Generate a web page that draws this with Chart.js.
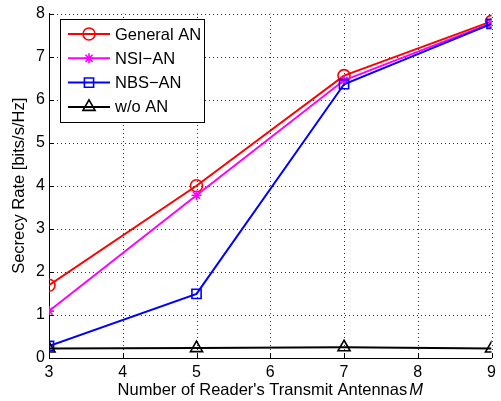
<!DOCTYPE html>
<html>
<head>
<meta charset="utf-8">
<script src="https://cdn.jsdelivr.net/npm/chart.js@4.4.1/dist/chart.umd.min.js"></script>
<style>
  body { margin: 0; background: #fff; }
  canvas { display: block; }
</style>
</head>
<body>
<canvas id="chart" width="501" height="401"></canvas>
<script>
// antennas M
const antennas = [3, 5, 7, 9];
const generalAN = [1.69, 4.0, 6.56, 7.82];
const nsiAN = [1.09, 3.78, 6.45, 7.78];
const nbsAN = [0.28, 1.49, 6.36, 7.76];
const withoutAN = [0.22, 0.23, 0.25, 0.22];

const xTicks = [3, 4, 5, 6, 7, 8, 9];
const yTicks = [0, 1, 2, 3, 4, 5, 6, 7, 8];

const FONT = '"Liberation Sans", Arial, Helvetica, sans-serif';

const toPoints = (vals) => vals.map((v, i) => ({ x: antennas[i], y: v }));

const series = [
    { label: 'General AN', data: generalAN, color: '#ff0000', style: 'circle', radius: 6, order: 4 },
    { label: 'NSI\u2212AN', data: nsiAN, color: '#ff00ff', style: 'star', radius: 5, order: 3 },
    { label: 'NBS\u2212AN', data: nbsAN, color: '#0000ff', style: 'rect', radius: 6.5, order: 2 },
    { label: 'w/o AN', data: withoutAN, color: '#000000', style: 'triangle', radius: 7, order: 1 },
];

// dotted grid under the lines
const dottedGrid = {
    id: 'dottedGrid',
    beforeDatasetsDraw(chart) {
        const ctx = chart.ctx;
        const xs = chart.scales.x;
        const ys = chart.scales.y;
        const area = chart.chartArea;
        ctx.save();
        ctx.strokeStyle = '#333';
        ctx.lineWidth = 1;
        ctx.setLineDash([1, 3]);
        ctx.beginPath();
        xTicks.slice(1).forEach(t => {
            const px = Math.round(xs.getPixelForValue(t)) + 0.5;
            ctx.moveTo(px, area.bottom);
            ctx.lineTo(px, area.top);
        });
        yTicks.slice(1).forEach(t => {
            const py = Math.round(ys.getPixelForValue(t)) + 0.5;
            ctx.moveTo(area.left, py);
            ctx.lineTo(area.right, py);
        });
        ctx.stroke();
        ctx.restore();
    }
};

// titles, inward ticks and the boxed legend, MATLAB style
const decorations = {
    id: 'decorations',
    afterDraw(chart) {
        const ctx = chart.ctx;
        const xs = chart.scales.x;
        const ys = chart.scales.y;
        const area = chart.chartArea;

        ctx.save();
        ctx.strokeStyle = '#000';
        ctx.lineWidth = 1;
        ctx.beginPath();
        xTicks.forEach(t => {
            const px = Math.round(xs.getPixelForValue(t)) + 0.5;
            ctx.moveTo(px, area.bottom);
            ctx.lineTo(px, area.bottom - 5);
        });
        yTicks.forEach(t => {
            const py = Math.round(ys.getPixelForValue(t)) + 0.5;
            ctx.moveTo(area.left, py);
            ctx.lineTo(area.left + 5, py);
        });
        ctx.stroke();

        // axis titles
        ctx.fillStyle = '#000';
        ctx.font = '16.5px ' + FONT;
        ctx.textBaseline = 'middle';
        ctx.textAlign = 'center';
        ctx.save();
        ctx.translate(19, (area.top + area.bottom) / 2);
        ctx.rotate(-Math.PI / 2);
        ctx.fillText('Secrecy Rate [bits/s/Hz]', 0, 0);
        ctx.restore();

        const xTitle = "Number of Reader's Transmit Antennas";
        const wMain = ctx.measureText(xTitle).width;
        ctx.font = 'italic 16.5px ' + FONT;
        const wM = ctx.measureText('M').width;
        const total = wMain + 2 + wM;
        const startX = (area.left + area.right) / 2 - total / 2;
        ctx.textAlign = 'left';
        ctx.font = '16.5px ' + FONT;
        ctx.fillText(xTitle, startX, 390);
        ctx.font = 'italic 16.5px ' + FONT;
        ctx.fillText('M', startX + wMain + 2, 390);

        // legend
        const lx = 60, ly = 19, lw = 144, lh = 103;
        ctx.fillStyle = '#fff';
        ctx.fillRect(lx, ly, lw, lh);
        ctx.strokeStyle = '#000';
        ctx.lineWidth = 1;
        ctx.strokeRect(lx + 0.5, ly + 0.5, lw, lh);
        series.forEach((s, i) => {
            const y = 34 + i * 24.3;
            ctx.strokeStyle = s.color;
            ctx.lineWidth = 2;
            ctx.beginPath();
            ctx.moveTo(68, y);
            ctx.lineTo(110, y);
            ctx.stroke();
            ctx.fillStyle = 'rgba(0,0,0,0)';
            ctx.lineWidth = 1.6;
            Chart.helpers.drawPoint(ctx, { pointStyle: s.style, radius: s.radius, rotation: 0, borderWidth: 1.6 }, 89, y);
            ctx.fillStyle = '#000';
            ctx.font = '16.5px ' + FONT;
            ctx.textAlign = 'left';
            ctx.textBaseline = 'middle';
            ctx.fillText(s.label, 115, y + 1);
        });
        ctx.restore();
    }
};

new Chart(document.getElementById('chart'), {
    type: 'line',
    data: {
        datasets: series.map(s => ({
            label: s.label,
            data: toPoints(s.data),
            borderColor: s.color,
            backgroundColor: 'rgba(0,0,0,0)',
            borderWidth: 2,
            pointStyle: s.style,
            pointRadius: s.radius,
            pointBorderColor: s.color,
            pointBackgroundColor: 'rgba(0,0,0,0)',
            pointBorderWidth: 1.6,
            tension: 0,
            order: s.order,
        })),
    },
    options: {
        responsive: false,
        animation: false,
        layout: { padding: { top: 12, right: 5, left: 0, bottom: 0 } },
        plugins: {
            legend: { display: false },
            tooltip: { enabled: false },
        },
        scales: {
            x: {
                type: 'linear',
                min: 3,
                max: 9,
                afterFit: (scale) => { scale.height = 43; },
                afterBuildTicks: (scale) => { scale.ticks = xTicks.map(v => ({ value: v })); },
                ticks: { font: { size: 16, family: FONT }, color: '#000', padding: 5 },
                grid: { display: false, drawTicks: false },
                border: { display: true, color: '#000', width: 1 },
            },
            y: {
                min: 0,
                max: 8,
                afterFit: (scale) => { scale.width = 49; },
                afterBuildTicks: (scale) => { scale.ticks = yTicks.map(v => ({ value: v })); },
                ticks: { font: { size: 16, family: FONT }, color: '#000', padding: 4 },
                grid: { display: false, drawTicks: false },
                border: { display: true, color: '#000', width: 1 },
            },
        },
    },
    plugins: [dottedGrid, decorations],
});
</script>
</body>
</html>
